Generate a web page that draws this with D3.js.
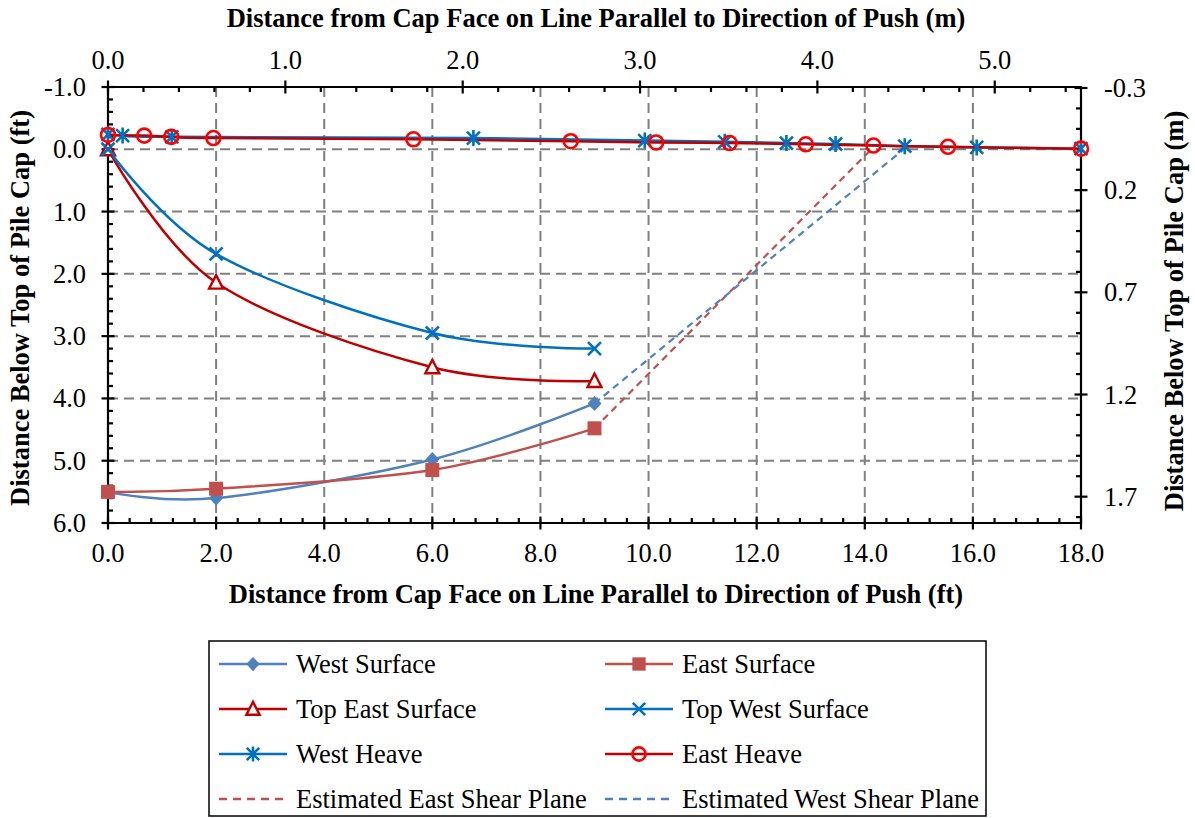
<!DOCTYPE html>
<html>
<head>
<meta charset="utf-8">
<script src="https://cdn.jsdelivr.net/npm/d3@7"></script>
<style>
  html, body { margin: 0; padding: 0; background: #ffffff; }
  svg { display: block; }
  text { font-family: "Liberation Serif", "Times New Roman", serif; fill: #000; }
</style>
</head>
<body>
<svg id="chart" width="1195" height="818"></svg>
<script>
// ---------------- DATA ----------------
const westSurfaceX = [0, 2, 6, 9];
const westSurfaceY = [5.5, 5.6, 4.98, 4.08];
const eastSurfaceX = [0, 2, 6, 9];
const eastSurfaceY = [5.5, 5.45, 5.15, 4.48];
const topEastX = [0, 2, 6, 9];
const topEastY = [0.0, 2.14, 3.5, 3.72];
const topWestX = [0, 2, 6, 9];
const topWestY = [0.0, 1.68, 2.95, 3.2];
const westHeaveX = [0, 0.27, 1.18, 6.76, 9.93, 11.41, 12.55, 13.46, 14.74, 16.07, 18.0];
const westHeaveY = [-0.24, -0.22, -0.2, -0.18, -0.14, -0.12, -0.1, -0.085, -0.05, -0.03, -0.01];
const eastHeaveX = [0, 0.67, 1.17, 1.95, 5.65, 8.56, 10.14, 11.5, 12.91, 14.16, 15.54, 18.0];
const eastHeaveY = [-0.23, -0.22, -0.2, -0.18, -0.16, -0.13, -0.11, -0.1, -0.08, -0.06, -0.04, -0.01];
const eastShearX = [9, 14.12];
const eastShearY = [4.48, 0.0];
const westShearX = [9, 14.72];
const westShearY = [4.08, 0.0];

const bottomTicks = [0, 2, 4, 6, 8, 10, 12, 14, 16, 18];
const bottomTickLabels = ["0.0", "2.0", "4.0", "6.0", "8.0", "10.0", "12.0", "14.0", "16.0", "18.0"];
const leftTicks = [-1, 0, 1, 2, 3, 4, 5, 6];
const leftTickLabels = ["-1.0", "0.0", "1.0", "2.0", "3.0", "4.0", "5.0", "6.0"];
const topTicks = [0, 1, 2, 3, 4, 5];
const topTickLabels = ["0.0", "1.0", "2.0", "3.0", "4.0", "5.0"];
const rightTicks = [-0.3, 0.2, 0.7, 1.2, 1.7];
const rightTickLabels = ["-0.3", "0.2", "0.7", "1.2", "1.7"];

const titleBottom = "Distance from Cap Face on Line Parallel to Direction of Push (ft)";
const titleTop = "Distance from Cap Face on Line Parallel to Direction of Push (m)";
const titleLeft = "Distance Below Top of Pile Cap (ft)";
const titleRight = "Distance Below Top of Pile Cap (m)";

const FT2M = 0.3048;

// ---------------- LAYOUT ----------------
const svg = d3.select("#chart");
const L = 108, R = 1081, T = 87, B = 523;

const x = d3.scaleLinear().domain([0, 18]).range([L, R]);
const y = d3.scaleLinear().domain([-1, 6]).range([T, B]);
const xm = d3.scaleLinear().domain([0, 18 * FT2M]).range([L, R]);
const ym = d3.scaleLinear().domain([-1 * FT2M, 6 * FT2M]).range([T, B]);

const gridColor = "#808080";

// gridlines
const grid = svg.append("g");
grid.selectAll("line.vg").data(bottomTicks.filter(d => d > 0 && d < 18)).enter()
  .append("line").attr("x1", d => x(d)).attr("x2", d => x(d)).attr("y1", T).attr("y2", B)
  .attr("stroke", gridColor).attr("stroke-width", 2).attr("stroke-dasharray", "10,6");
grid.selectAll("line.hg").data(leftTicks.filter(d => d > -1 && d < 6)).enter()
  .append("line").attr("y1", d => y(d)).attr("y2", d => y(d)).attr("x1", L).attr("x2", R)
  .attr("stroke", gridColor).attr("stroke-width", 2).attr("stroke-dasharray", "10,6");

// axes frame and ticks
const ax = svg.append("g").attr("stroke", "#000").attr("stroke-width", 2.2);
const MJ = 6.5, MN = 5;
// bottom
ax.append("line").attr("x1", L - 1).attr("x2", R + 1).attr("y1", B).attr("y2", B);
bottomTicks.forEach(d => ax.append("line").attr("x1", x(d)).attr("x2", x(d)).attr("y1", B - MJ).attr("y2", B + MJ));
d3.range(0, 18.001, 0.4).forEach(d => {
  if (Math.abs(d / 2 - Math.round(d / 2)) > 1e-6)
    ax.append("line").attr("x1", x(d)).attr("x2", x(d)).attr("y1", B - MN).attr("y2", B);
});
// left
ax.append("line").attr("x1", L).attr("x2", L).attr("y1", T - 1).attr("y2", B + 1);
leftTicks.forEach(d => ax.append("line").attr("x1", L - MJ).attr("x2", L + MJ).attr("y1", y(d)).attr("y2", y(d)));
d3.range(-1, 6.001, 0.2).forEach(d => {
  if (Math.abs(d - Math.round(d)) > 1e-6)
    ax.append("line").attr("x1", L).attr("x2", L + MN).attr("y1", y(d)).attr("y2", y(d));
});
// top
ax.append("line").attr("x1", L - 1).attr("x2", R + 1).attr("y1", T).attr("y2", T);
topTicks.forEach(d => ax.append("line").attr("x1", xm(d)).attr("x2", xm(d)).attr("y1", T - MJ).attr("y2", T + MJ));
d3.range(0, 18 * FT2M, 0.2).forEach(d => {
  if (Math.abs(d - Math.round(d)) > 1e-6)
    ax.append("line").attr("x1", xm(d)).attr("x2", xm(d)).attr("y1", T).attr("y2", T + MN);
});
// right
ax.append("line").attr("x1", R).attr("x2", R).attr("y1", T - 1).attr("y2", B + 1);
rightTicks.forEach(d => ax.append("line").attr("x1", R - MJ).attr("x2", R + MJ).attr("y1", ym(d)).attr("y2", ym(d)));
d3.range(-0.3, 6 * FT2M, 0.1).forEach(d => {
  const k = (d + 0.3) / 0.5;
  if (Math.abs(k - Math.round(k)) > 1e-6)
    ax.append("line").attr("x1", R - MN).attr("x2", R).attr("y1", ym(d)).attr("y2", ym(d));
});

// tick labels
const FS = 26.5;
const lab = svg.append("g").style("font-size", FS + "px");
bottomTicks.forEach((d, i) => lab.append("text").attr("x", x(d)).attr("y", 562)
  .attr("text-anchor", "middle").text(bottomTickLabels[i]));
leftTicks.forEach((d, i) => lab.append("text").attr("x", 86).attr("y", y(d) + 9)
  .attr("text-anchor", "end").text(leftTickLabels[i]));
topTicks.forEach((d, i) => lab.append("text").attr("x", xm(d)).attr("y", 69)
  .attr("text-anchor", "middle").text(topTickLabels[i]));
rightTicks.forEach((d, i) => lab.append("text").attr("x", 1104).attr("y", ym(d) + 9)
  .attr("text-anchor", "start").text(rightTickLabels[i]));

// axis titles
const tt = svg.append("g").style("font-size", "26.5px").style("font-weight", "bold");
tt.append("text").attr("x", 596).attr("y", 603).attr("text-anchor", "middle").text(titleBottom);
tt.append("text").attr("x", 596).attr("y", 27).attr("text-anchor", "middle").text(titleTop);
tt.append("text").attr("transform", "translate(29,308) rotate(-90)").attr("text-anchor", "middle").text(titleLeft);
tt.append("text").attr("transform", "translate(1183,311) rotate(-90)").attr("text-anchor", "middle").text(titleRight);

// ---------------- SERIES ----------------
const series = [
  { name: "West Surface", xs: westSurfaceX, ys: westSurfaceY, color: "#4F81BD", marker: "diamond", dash: null, smooth: true },
  { name: "East Surface", xs: eastSurfaceX, ys: eastSurfaceY, color: "#C0504D", marker: "square", dash: null, smooth: true },
  { name: "Top East Surface", xs: topEastX, ys: topEastY, color: "#C00000", marker: "triangle", dash: null, smooth: true },
  { name: "Top West Surface", xs: topWestX, ys: topWestY, color: "#0070C0", marker: "x", dash: null, smooth: true },
  { name: "West Heave", xs: westHeaveX, ys: westHeaveY, color: "#0070C0", marker: "asterisk", dash: null, smooth: true },
  { name: "East Heave", xs: eastHeaveX, ys: eastHeaveY, color: "#C00000", mcolor: "#FF0000", marker: "circle", dash: null, smooth: true },
  { name: "Estimated East Shear Plane", xs: eastShearX, ys: eastShearY, color: "#C0504D", marker: null, dash: "7,5", smooth: false },
  { name: "Estimated West Shear Plane", xs: westShearX, ys: westShearY, color: "#4F81BD", marker: null, dash: "7,5", smooth: false }
];

function drawMarker(g, type, cx, cy, color, scale) {
  const s = scale || 1;
  if (type === "diamond") {
    g.append("path").attr("d", `M${cx},${cy - 7.5 * s} L${cx + 7 * s},${cy} L${cx},${cy + 7.5 * s} L${cx - 7 * s},${cy} Z`)
      .attr("fill", color);
  } else if (type === "square") {
    g.append("rect").attr("x", cx - 7 * s).attr("y", cy - 7 * s).attr("width", 14 * s).attr("height", 14 * s)
      .attr("fill", color);
  } else if (type === "triangle") {
    g.append("path").attr("d", `M${cx},${cy - 7.5 * s} L${cx + 7 * s},${cy + 6 * s} L${cx - 7 * s},${cy + 6 * s} Z`)
      .attr("fill", "#fff").attr("stroke", color).attr("stroke-width", 2.4);
  } else if (type === "x") {
    const k = 6.5 * s;
    g.append("path").attr("d", `M${cx - k},${cy - k} L${cx + k},${cy + k} M${cx - k},${cy + k} L${cx + k},${cy - k}`)
      .attr("stroke", color).attr("stroke-width", 2.6).attr("fill", "none");
  } else if (type === "asterisk") {
    const k = 6.5 * s;
    g.append("path").attr("d", `M${cx - k},${cy - k} L${cx + k},${cy + k} M${cx - k},${cy + k} L${cx + k},${cy - k} M${cx},${cy - 8 * s} L${cx},${cy + 8 * s}`)
      .attr("stroke", color).attr("stroke-width", 2.6).attr("fill", "none");
  } else if (type === "circle") {
    g.append("circle").attr("cx", cx).attr("cy", cy).attr("r", 7 * s)
      .attr("fill", "none").attr("stroke", color).attr("stroke-width", 2.6);
  }
}

const plot = svg.append("g");
const drawOrder = [6, 7, 0, 1, 2, 3, 4, 5];
drawOrder.forEach(i => {
  const s = series[i];
  const pts = s.xs.map((v, j) => [v, s.ys[j]]);
  const line = d3.line().x(d => x(d[0])).y(d => y(d[1]))
    .curve(s.smooth ? d3.curveCatmullRom.alpha(0) : d3.curveLinear);
  plot.append("path").attr("d", line(pts)).attr("fill", "none")
    .attr("stroke", s.color).attr("stroke-width", s.dash ? 2.2 : 2.5)
    .attr("stroke-dasharray", s.dash);
});
drawOrder.forEach(i => {
  const s = series[i];
  if (!s.marker) return;
  s.xs.forEach((v, j) => drawMarker(plot, s.marker, x(v), y(s.ys[j]), s.mcolor || s.color, 1));
});

// ---------------- LEGEND ----------------
const leg = svg.append("g");
leg.append("rect").attr("x", 209).attr("y", 641).attr("width", 777).attr("height", 175)
  .attr("fill", "#fff").attr("stroke", "#000").attr("stroke-width", 1.5);
const colX = [219, 605];
const rowY = [664, 709, 754, 799];
series.forEach((s, i) => {
  const c = i % 2, r = Math.floor(i / 2);
  const x0 = colX[c], yy = rowY[r];
  leg.append("line").attr("x1", x0).attr("x2", x0 + 68).attr("y1", yy).attr("y2", yy)
    .attr("stroke", s.color).attr("stroke-width", 2.5).attr("stroke-dasharray", s.dash ? "8,6" : null);
  if (s.marker) drawMarker(leg, s.marker, x0 + 34, yy, s.mcolor || s.color, 0.95);
  leg.append("text").attr("x", x0 + 77).attr("y", yy + 9).style("font-size", FS + "px").text(s.name);
});
</script>
</body>
</html>
